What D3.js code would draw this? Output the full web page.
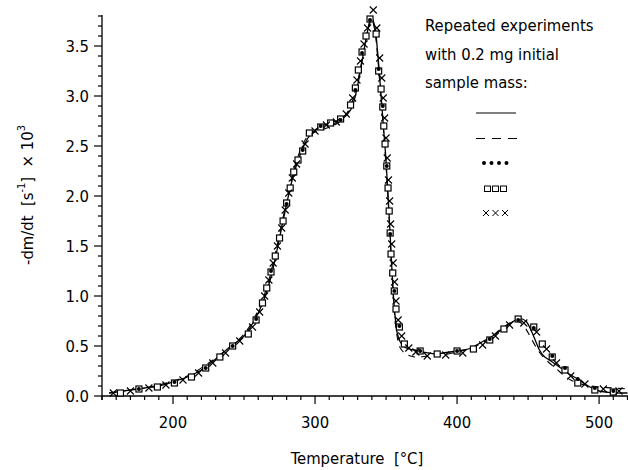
<!DOCTYPE html>
<html>
<head>
<meta charset="utf-8">
<script src="https://cdn.jsdelivr.net/npm/d3@7"></script>
<style>
  body { margin: 0; background: #fff; }
  svg { display: block; font-family: "DejaVu Sans Condensed", "DejaVu Sans", sans-serif; }
</style>
</head>
<body>
<svg id="chart"></svg>
<script>
// Solid curve (experiment 1)
const solidT = [155,160,170,180,190,200,210,220,230,240,250,255,260,265,270,275,280,285,290,295,300,305,310,315,320,325,328,331,334,337,339,340,342,344,346,348,350,352,354,356,358,360,363,366,370,375,380,385,390,395,400,405,410,415,420,425,430,435,440,443,446,449,452,455,458,461,465,470,475,480,485,490,495,500,505,510,515,520];
const solidV = [0.03,0.04,0.06,0.08,0.10,0.14,0.19,0.26,0.37,0.49,0.60,0.70,0.83,1.00,1.25,1.58,1.92,2.22,2.43,2.58,2.66,2.70,2.73,2.75,2.78,2.86,2.98,3.18,3.42,3.65,3.77,3.78,3.70,3.45,3.10,2.72,2.35,1.85,1.30,0.85,0.62,0.54,0.49,0.47,0.46,0.44,0.43,0.42,0.43,0.44,0.45,0.46,0.48,0.52,0.56,0.60,0.65,0.70,0.75,0.77,0.77,0.74,0.66,0.56,0.46,0.40,0.36,0.31,0.26,0.21,0.17,0.12,0.08,0.05,0.04,0.03,0.03,0.03];

// Dashed curve (experiment 2)
const dashedT = [155,170,190,210,230,250,260,265,270,275,280,285,290,295,300,305,310,315,320,325,330,335,338,340,342,344,346,348,350,352,354,356,358,360,364,370,380,390,400,410,420,430,436,440,444,448,452,456,460,465,470,475,480,485,490,500,510,520];
const dashedV = [0.03,0.06,0.11,0.20,0.38,0.62,0.86,1.04,1.30,1.62,1.95,2.25,2.47,2.60,2.64,2.66,2.69,2.72,2.78,2.90,3.15,3.50,3.70,3.76,3.66,3.40,3.05,2.70,2.30,1.82,1.28,0.82,0.58,0.48,0.42,0.39,0.40,0.41,0.44,0.48,0.55,0.66,0.72,0.75,0.74,0.68,0.58,0.48,0.40,0.33,0.27,0.21,0.16,0.13,0.11,0.09,0.08,0.07];

// Square markers (experiment 4)
const squareT = [163,176,189,201,213,223,233,242,253,258.5,263,266,269,272,275,277.5,280,282.5,285,288,291.3,296,304,311,318,325,328.4,330.5,333.1,335.9,338.7,343,344.8,346.5,347.7,348.4,349.3,350.5,351.4,352.2,352.9,353.5,354.7,355.8,357,359.4,362.9,374,386,400,411.5,423,433,443,454,460,467,476,485,497,510];
const squareV = [0.03,0.07,0.09,0.13,0.19,0.28,0.39,0.50,0.62,0.76,0.93,1.08,1.24,1.40,1.58,1.75,1.93,2.08,2.24,2.36,2.45,2.63,2.69,2.73,2.77,2.91,3.08,3.26,3.44,3.60,3.77,3.62,3.25,3.07,2.89,2.70,2.52,2.30,2.08,1.85,1.63,1.42,1.23,1.05,0.87,0.69,0.52,0.45,0.42,0.45,0.47,0.56,0.67,0.77,0.69,0.52,0.39,0.26,0.13,0.06,0.04];

// Dot markers (experiment 3)
const dotT = [176,201,223,242,258.5,269,280,291.3,304,318,328.4,333.1,338.7,344.8,347.7,350.5,352.9,355.8,359.4,374,400,423,443,454,467,476,485,497,510];
const dotV = [0.07,0.14,0.28,0.50,0.77,1.25,1.92,2.46,2.70,2.76,3.06,3.43,3.76,3.27,2.90,2.30,1.62,1.05,0.70,0.45,0.45,0.57,0.76,0.68,0.40,0.28,0.17,0.08,0.05];

// Cross markers (experiment 5)
const crossT = [158,170,183,195,207,218,228,237,247,256,261,264.5,267.5,270.5,273.5,276.5,279,281.5,284,287,293,300,308,315,322,326.5,329.5,332,334.5,337,341,343.5,345.5,347,348,349,350,350.8,351.7,352.5,353.2,354,355,356,357,358.5,361,366,371,379,392,404,418,427,437,447,456,463,470,480,490,503,514];
const crossV = [0.03,0.05,0.08,0.11,0.16,0.23,0.33,0.43,0.55,0.69,0.84,1.00,1.16,1.33,1.50,1.68,1.86,2.03,2.18,2.32,2.52,2.65,2.71,2.74,2.82,2.98,3.16,3.35,3.52,3.68,3.86,3.68,3.38,3.18,2.98,2.78,2.58,2.38,2.16,1.95,1.72,1.52,1.33,1.14,0.95,0.76,0.60,0.48,0.44,0.40,0.41,0.43,0.51,0.60,0.71,0.73,0.64,0.47,0.33,0.20,0.12,0.07,0.05];

// Axis ticks and texts
const xTicks = [200, 300, 400, 500];
const yTicks = [0, 0.5, 1.0, 1.5, 2.0, 2.5, 3.0, 3.5];
const legendLines = ["Repeated experiments", "with 0.2 mg initial", "sample mass:"];

const W = 628, H = 470;
const svg = d3.select("#chart").attr("width", W).attr("height", H);

const x = d3.scaleLinear().domain([150, 520]).range([102, 627.5]);
const y = d3.scaleLinear().domain([0, 3.81]).range([396, 15]);

const fontSize = 16.5;

// x axis: major + minor ticks
const gx = svg.append("g").attr("transform", `translate(0,${y(0)})`);
gx.append("line").attr("x1", x(150)).attr("x2", W).attr("stroke", "#000").attr("stroke-width", 1.3);
gx.selectAll(".xminor").data(d3.range(150, 521, 10)).enter().append("line")
  .attr("x1", d => x(d)).attr("x2", d => x(d))
  .attr("y1", 0).attr("y2", d => d % 100 === 0 ? 8 : 4)
  .attr("stroke", "#000").attr("stroke-width", 1.2);
gx.selectAll(".xlab").data(xTicks).enter().append("text")
  .attr("x", d => x(d)).attr("y", 32)
  .attr("text-anchor", "middle").attr("font-size", fontSize)
  .text(d => d);

// y axis: major + minor ticks
const gy = svg.append("g").attr("transform", `translate(${x(150)},0)`);
gy.append("line").attr("y1", y(0) + 4).attr("y2", y(3.81)).attr("stroke", "#000").attr("stroke-width", 1.3);
gy.selectAll(".yminor").data(d3.range(0, 39).map(i => i / 10)).enter().append("line")
  .attr("y1", d => y(d)).attr("y2", d => y(d))
  .attr("x1", (d, i) => i % 5 === 0 ? -8 : -4).attr("x2", 0)
  .attr("stroke", "#000").attr("stroke-width", 1.2);
gy.selectAll(".ylab").data(yTicks).enter().append("text")
  .attr("x", -13).attr("y", d => y(d) + 6)
  .attr("text-anchor", "end").attr("font-size", fontSize)
  .text(d => d.toFixed(1));

// axis titles
svg.append("text").attr("x", 357).attr("y", 464)
  .attr("text-anchor", "middle").attr("font-size", fontSize)
  .attr("xml:space", "preserve")
  .text("Temperature  [°C]");

const yl = svg.append("text")
  .attr("transform", "translate(33,195) rotate(-90)")
  .attr("text-anchor", "middle").attr("font-size", fontSize)
  .attr("xml:space", "preserve");
yl.append("tspan").text("-dm/dt  [s");
yl.append("tspan").attr("dy", -8).attr("font-size", 11).text("-1");
yl.append("tspan").attr("dy", 8).text("]  × 10");
yl.append("tspan").attr("dy", -8).attr("font-size", 11).text("3");

// lines
const line = d3.line().x(d => x(d[0])).y(d => y(d[1])).curve(d3.curveCatmullRom.alpha(0.5));
svg.append("path").datum(dashedT.map((t, i) => [t, dashedV[i]]))
  .attr("d", line).attr("fill", "none").attr("stroke", "#000")
  .attr("stroke-width", 1.1).attr("stroke-dasharray", "7,6");
svg.append("path").datum(solidT.map((t, i) => [t, solidV[i]]))
  .attr("d", line).attr("fill", "none").attr("stroke", "#000")
  .attr("stroke-width", 1.3);

// markers
const sq = 6;
svg.selectAll(".sq").data(squareT.map((t, i) => [t, squareV[i]])).enter().append("rect")
  .attr("x", d => x(d[0]) - sq / 2).attr("y", d => y(d[1]) - sq / 2)
  .attr("width", sq).attr("height", sq)
  .attr("fill", "#fff").attr("stroke", "#000").attr("stroke-width", 1.2);

svg.selectAll(".dot").data(dotT.map((t, i) => [t, dotV[i]])).enter().append("circle")
  .attr("cx", d => x(d[0])).attr("cy", d => y(d[1])).attr("r", 2)
  .attr("fill", "#000");

const cr = 3.5;
svg.selectAll(".cross").data(crossT.map((t, i) => [t, crossV[i]])).enter().append("path")
  .attr("d", d => {
    const cx = x(d[0]), cy = y(d[1]);
    return `M${cx - cr},${cy - cr}L${cx + cr},${cy + cr}M${cx - cr},${cy + cr}L${cx + cr},${cy - cr}`;
  })
  .attr("stroke", "#000").attr("stroke-width", 1.1).attr("fill", "none");

// legend
const lg = svg.append("g");
lg.selectAll(".lt").data(legendLines).enter().append("text")
  .attr("x", 425).attr("y", (d, i) => 31 + i * 28.5)
  .attr("font-size", fontSize).text(d => d);

lg.append("line").attr("x1", 476).attr("x2", 516).attr("y1", 113).attr("y2", 113)
  .attr("stroke", "#000").attr("stroke-width", 1);
lg.append("line").attr("x1", 476).attr("x2", 517).attr("y1", 138.5).attr("y2", 138.5)
  .attr("stroke", "#000").attr("stroke-width", 1).attr("stroke-dasharray", "9,7");
lg.selectAll(".ld").data([0, 1, 2, 3]).enter().append("circle")
  .attr("cx", i => 484 + i * 7.5).attr("cy", 163).attr("r", 2).attr("fill", "#000");
lg.selectAll(".ls").data([0, 1, 2]).enter().append("rect")
  .attr("x", i => 484.5 + i * 8).attr("y", 186).attr("width", 6).attr("height", 5.5)
  .attr("fill", "none").attr("stroke", "#000").attr("stroke-width", 1);
lg.selectAll(".lx").data([0, 1, 2]).enter().append("path")
  .attr("d", i => {
    const cx = 486 + i * 9.5, cy = 213, r = 3;
    return `M${cx - r},${cy - r}L${cx + r},${cy + r}M${cx - r},${cy + r}L${cx + r},${cy - r}`;
  })
  .attr("stroke", "#000").attr("stroke-width", 1);
</script>
</body>
</html>
